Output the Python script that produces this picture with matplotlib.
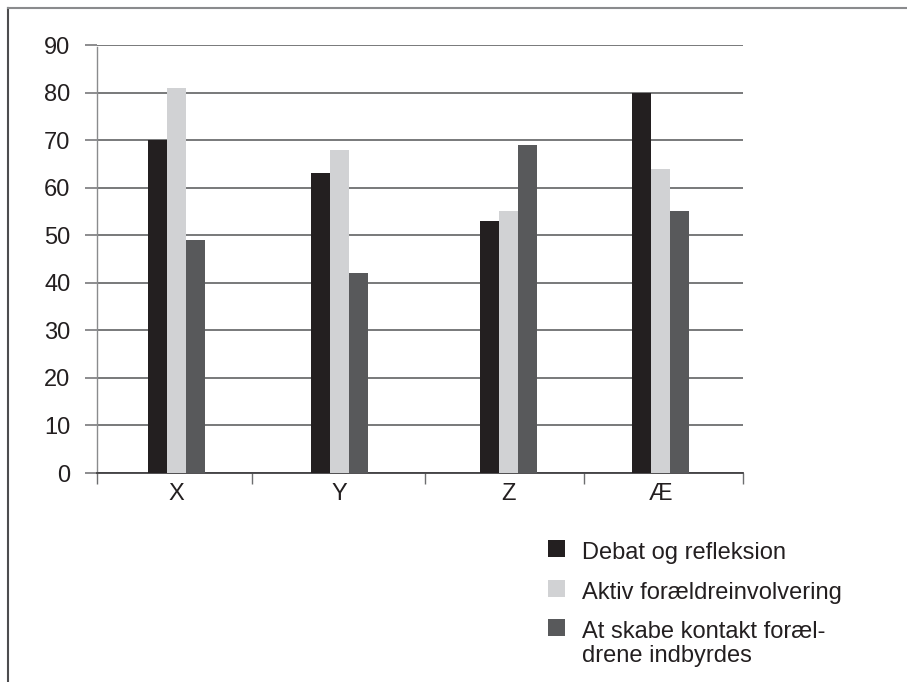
import matplotlib
matplotlib.use("Agg")
import matplotlib.pyplot as plt
from matplotlib.patches import Rectangle
from matplotlib.lines import Line2D

# data
categories = ["X", "Y", "Z", "Æ"]
debat = [70, 63, 53, 80]
aktiv = [81, 68, 55, 64]
kontakt = [49, 42, 69, 55]
series_names = ["Debat og refleksion", "Aktiv forældreinvolvering",
                "At skabe kontakt foræl-\ndrene indbyrdes"]
colors = ["#231f20", "#d1d2d4", "#58595b"]

# the category slots in the original are not quite evenly wide
edges = [0, 0.96, 2.03, 3.015, 4]
centers = [0.49, 1.50, 2.55, 3.49]

plt.rcParams['font.family'] = ['Liberation Sans', 'DejaVu Sans']

W, H = 907, 682
fig = plt.figure(figsize=(W / 100, H / 100), dpi=100)
ax = fig.add_axes([97 / W, 1 - 473 / H, 646 / W, 428 / H])

bw = 4 / 646 * 19  # bar width ~19 px
for k, (vals, col) in enumerate(zip([debat, aktiv, kontakt], colors)):
    xs = [c + (k - 1) * bw for c in centers]
    ax.bar(xs, vals, width=bw, color=col, zorder=3)

ax.set_xlim(0, 4)
ax.set_ylim(0, 90)
ax.set_yticks(range(0, 91, 10))
ax.yaxis.grid(True, color="#6d6e70", linewidth=1.3, zorder=0)
ax.tick_params(axis="y", length=9, width=1.1, color="#6d6e70", labelsize=17,
               pad=10, labelcolor="#231f20")

ax.set_xticks(edges)
ax.set_xticklabels([])
ax.set_xticks(centers, minor=True)
ax.set_xticklabels(categories, minor=True, fontsize=17, color="#231f20")
ax.tick_params(axis="x", which="major", length=8, width=1, color="#6d6e70",
               direction="out")
ax.tick_params(axis="x", which="minor", length=0, pad=7)

for s in ["top", "right"]:
    ax.spines[s].set_visible(False)
ax.spines["left"].set_color("#8a8b8d")
ax.spines["left"].set_linewidth(1.0)
ax.spines["left"].set_bounds(0, 89.5)
ax.spines["bottom"].set_color("#414042")
ax.spines["bottom"].set_linewidth(1.3)
ax.set_axisbelow(True)

# legend drawn by hand so the square sits on the first line of a wrapped label
row_top = [540, 580, 619]
for name, col, top in zip(series_names, colors, row_top):
    fig.add_artist(Rectangle((548 / W, 1 - (top + 17) / H), 17 / W, 17 / H,
                             transform=fig.transFigure, facecolor=col,
                             edgecolor="none"))
    fig.text(582 / W, 1 - (top + 2) / H, name, fontsize=17, va="top",
             ha="left", color="#231f20", linespacing=1.1)

# partial frame around the figure (left and top only)
fig.add_artist(Line2D([8 / W, 8 / W], [0, 1 - 8 / H],
                      transform=fig.transFigure, color="#4d4d4f", lw=1.5))
fig.add_artist(Line2D([8 / W, 1], [1 - 8 / H, 1 - 8 / H],
                      transform=fig.transFigure, color="#8a8b8d", lw=1.5))

fig.savefig("out.png", dpi=100)
